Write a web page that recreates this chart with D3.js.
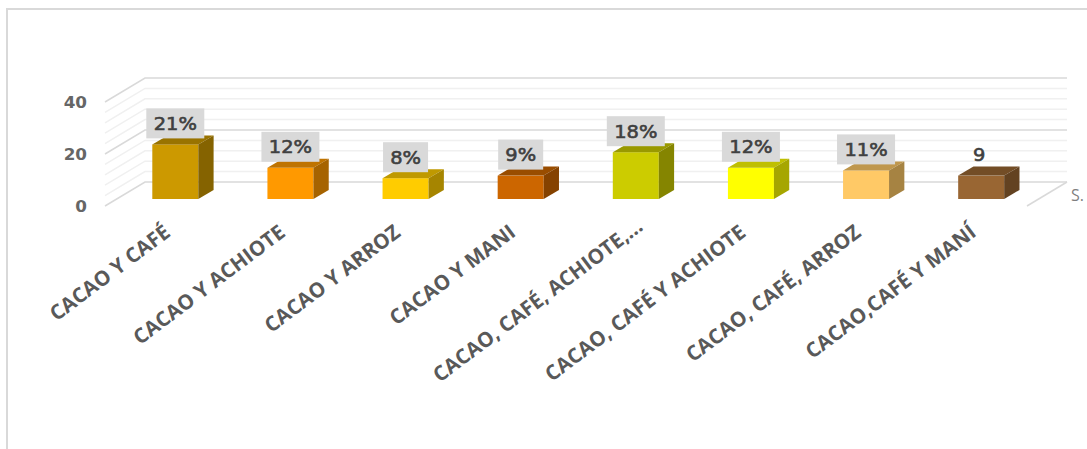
<!DOCTYPE html>
<html><head><meta charset="utf-8">
<script src="https://cdn.jsdelivr.net/npm/d3@7"></script>
<style>html,body{margin:0;padding:0;background:#fff;overflow:hidden}svg{display:block}</style>
</head><body><svg id="c" width="1087" height="449"></svg>
<script>
const categories=["CACAO Y CAFÉ","CACAO Y ACHIOTE","CACAO Y ARROZ","CACAO Y MANI","CACAO, CAFÉ, ACHIOTE,...","CACAO, CAFÉ Y ACHIOTE","CACAO, CAFÉ, ARROZ","CACAO,CAFÉ Y MANÍ"];
const values=[21,12,8,9,18,12,11,9];
const valueLabels=["21%","12%","8%","9%","18%","12%","11%","9"];
const barColors=["#CC9900","#FF9900","#FFCC00","#CC6600","#CCCC00","#FFFF00","#FFC966","#996633"];
const yTicks=[0,20,40];
const gridValues=[0,4,8,12,16,20,24,28,32,36,40];
const seriesLabel="S.";

const svg=d3.select("#c");
const font="'Open Sans',sans-serif";
const y=d3.scaleLinear().domain([0,40]).range([206,102]);
const x=d3.scaleBand().domain(categories).range([105,1026]);
const depthX=40,depthY=24,barInX=47.3,barInY=7,barDX=15.3,barDY=9,barW=46;
const shade=(c,f)=>{const r=d3.rgb(c);return d3.rgb(r.r*f,r.g*f,r.b*f).formatHex();};

// chart frame
svg.append("path").attr("fill","none").attr("stroke","#d9d9d9").attr("stroke-width",2).attr("d","M7,449V9H1087");

// walls
const grid=svg.append("g").attr("fill","none");
gridValues.forEach(v=>{
  const major=yTicks.includes(v);
  grid.append("path").attr("stroke",major?"#d9d9d9":"#f0f0f0").attr("stroke-width",1.5)
    .attr("d",`M105,${y(v)}L${105+depthX},${y(v)-depthY}H1067`);
});
svg.append("path").attr("fill","none").attr("stroke","#d9d9d9").attr("stroke-width",1.5)
  .attr("d",`M1067,${y(0)-depthY}L1027,${y(0)}`);

// y labels
svg.append("g").selectAll("text").data(yTicks).join("text")
  .attr("transform",d=>`translate(87,${y(d)+2}) scale(1.12,1)`)
  .attr("text-anchor","end").attr("dominant-baseline","middle")
  .attr("font-family","'DejaVu Sans',sans-serif").attr("font-size",15).attr("font-weight",700)
  .attr("fill","#666").text(d=>d);

// bars
const bars=svg.append("g").selectAll("g").data(values).join("g")
  .attr("transform",(d,i)=>`translate(${x(categories[i])+barInX},${y(0)-barInY})`);
bars.append("rect").attr("x",0).attr("width",barW).attr("y",d=>y(d)-y(0)).attr("height",d=>y(0)-y(d))
  .attr("fill",(d,i)=>barColors[i]);
bars.append("path").attr("fill",(d,i)=>shade(barColors[i],.75))
  .attr("d",d=>{const t=y(d)-y(0);return `M0,${t}L${barDX},${t-barDY}H${barW+barDX}L${barW},${t}Z`;});
bars.append("path").attr("fill",(d,i)=>shade(barColors[i],.65))
  .attr("d",d=>{const t=y(d)-y(0);return `M${barW},${t}L${barW+barDX},${t-barDY}V${-barDY}L${barW},0Z`;});

// data labels
const lab=bars.append("g").attr("transform",(d,i)=>`translate(${barW/2-(i==7?2:0)},${y(d)-y(0)-21})`);
lab.filter((d,i)=>i<7).append("rect").attr("x",(d,i)=>valueLabels[i].length>2?-29:-22.5)
  .attr("width",(d,i)=>valueLabels[i].length>2?58:45).attr("y",-15).attr("height",30).attr("fill","#d9d9d9");
lab.append("text").attr("transform","scale(1.08,1)").attr("text-anchor","middle").attr("y",6.5)
  .attr("font-family","'DejaVu Sans',sans-serif").attr("font-size",18).attr("font-weight",400)
  .attr("stroke","#404040").attr("stroke-width",.6)
  .attr("fill","#404040").text((d,i)=>valueLabels[i]);

// category labels
svg.append("g").selectAll("text").data(categories).join("text")
  .attr("transform",(d,i)=>`translate(${x(d)+x.bandwidth()/2+(i==4?21:9)},${i==4?229:235}) rotate(-37)`)
  .attr("text-anchor","end").attr("font-family",font).attr("font-size",20.5).attr("font-weight",700)
  .attr("fill","#595959").text(d=>d);

svg.append("text").attr("x",1071).attr("y",201).attr("font-family",font).attr("font-size",16).attr("fill","#7f7f7f").text(seriesLabel);
</script></body></html>
